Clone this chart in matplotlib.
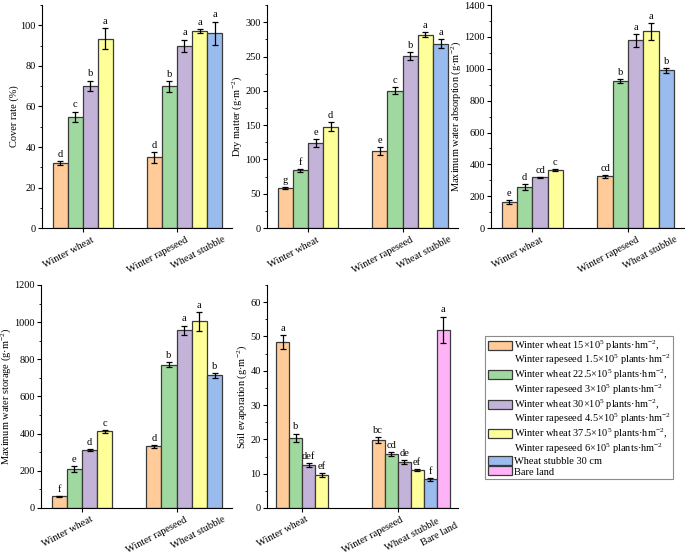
import matplotlib.pyplot as plt
from matplotlib.patches import Patch
from matplotlib.ticker import AutoMinorLocator, MultipleLocator
from matplotlib.transforms import ScaledTranslation

# Times-like look for the whole figure
plt.rcParams['font.family'] = ['Liberation Serif', 'DejaVu Serif']
plt.rcParams['mathtext.fontset'] = 'stix'
plt.rcParams['mathtext.default'] = 'regular'

# bar colours: 4 densities, stubble, bare land
colors = ["#FFCC99", "#9FD99F", "#C4B3D9", "#FFFF99", "#99BBEE", "#FFB3F7"]

# group labels on the x axis
labels_main = ["Winter wheat", "Winter rapeseed"]
labels_extra = ["Wheat stubble"]
labels_extra_evap = ["Wheat stubble", "Bare land"]

# cover rate (%)
cover_vals = [32.2, 55.0, 70.3, 93.4, 35.0, 70.0, 90.0, 97.0, 96.1]
cover_errs = [1.0, 2.5, 2.5, 5.2, 2.7, 2.7, 3.0, 1.0, 5.8]
cover_letters = ["d", "c", "b", "a", "d", "b", "a", "a", "a"]

# dry matter (g m-2)
dry_vals = [58, 84, 124, 148, 112, 200, 251, 282, 269]
dry_errs = [1.5, 2.0, 6.0, 6.0, 6.0, 5.0, 6.0, 4.0, 6.0]
dry_letters = ["g", "f", "e", "d", "e", "c", "b", "a", "a"]

# maximum water absorption (g m-2)
absorb_vals = [165, 256, 318, 365, 325, 925, 1178, 1235, 990]
absorb_errs = [12, 18, 5, 5, 10, 12, 40, 55, 15]
absorb_letters = ["e", "d", "cd", "c", "cd", "b", "a", "a", "b"]

# maximum water storage (g m-2)
storage_vals = [62, 210, 310, 412, 333, 772, 957, 1005, 713]
storage_errs = [3, 18, 5, 6, 8, 14, 25, 50, 12]
storage_letters = ["f", "e", "d", "c", "d", "b", "a", "a", "b"]

# soil evaporation (g m-2)
evap_vals = [48.4, 20.5, 12.5, 9.6, 19.8, 15.7, 13.4, 11.0, 8.4, 52.0]
evap_errs = [2.0, 1.2, 0.6, 0.7, 0.9, 0.5, 0.7, 0.3, 0.4, 3.8]
evap_letters = ["a", "b", "def", "ef", "bc", "cd", "de", "ef", "f", "a"]

# legend text
legend_lines = [
    "Winter wheat 15×10$^5$ plants·hm$^{-2}$,",
    "Winter rapeseed 1.5×10$^5$ plants·hm$^{-2}$",
    "Winter wheat 22.5×10$^5$ plants·hm$^{-2}$,",
    "Winter rapeseed 3×10$^5$ plants·hm$^{-2}$",
    "Winter wheat 30×10$^5$ plants·hm$^{-2}$,",
    "Winter rapeseed 4.5×10$^5$ plants·hm$^{-2}$",
    "Winter wheat 37.5×10$^5$ plants·hm$^{-2}$,",
    "Winter rapeseed 6×10$^5$ plants·hm$^{-2}$",
    "Wheat stubble 30 cm",
    "Bare land",
]

fig = plt.figure(figsize=(6.85, 5.55), dpi=100)


def draw_panel(rect, vals, errs, letters, ylabel, ymax, ystep, gap, extra_labels,
               shift_px=8, extra_shift=((8, 0),)):
    ax = fig.add_axes(rect)
    # first group has 4 bars, second group starts after a gap
    n2 = len(vals) - 4
    start2 = 3.5 + gap + 0.5
    xs = [0, 1, 2, 3] + [start2 + i for i in range(n2)]
    cols = colors[:4] + colors[:4] + colors[4:4 + n2 - 4]
    ax.bar(xs, vals, width=1.0, color=cols, edgecolor="#3a3a3a", linewidth=0.9)
    ax.errorbar(xs, vals, yerr=errs, fmt="none", ecolor="black",
                elinewidth=0.9, capsize=2.5, capthick=0.9)
    for x, v, e, t in zip(xs, vals, errs, letters):
        ax.annotate(t, (x, v + e), xytext=(0, 1.5), textcoords="offset points",
                    ha="center", va="bottom", fontsize=7.5)

    ax.set_xlim(-0.5 - 0.7, xs[-1] + 0.5 + 0.65)
    ax.set_ylim(0, ymax)
    ax.yaxis.set_major_locator(MultipleLocator(ystep))
    ax.yaxis.set_minor_locator(AutoMinorLocator(2))
    ax.set_ylabel(ylabel, fontsize=7.5, labelpad=1)

    # main ticks under the group centres, extra labels without tick marks
    ax.set_xticks([1.5, start2 + 1.5])
    ax.set_xticklabels(labels_main)
    ax.set_xticks(xs[8:], minor=True)
    ax.set_xticklabels(extra_labels, minor=True)
    ax.tick_params(axis="x", which="minor", length=0, pad=5.0)
    ax.tick_params(axis="x", which="major", length=3, width=0.8, pad=2.0)
    ax.tick_params(axis="y", which="major", length=3, width=0.8, labelsize=7.5, pad=1.5)
    ax.tick_params(axis="y", which="minor", length=1.8, width=0.6)
    shift = ScaledTranslation(shift_px / 100, 0, fig.dpi_scale_trans)
    for lab in ax.get_xticklabels():
        lab.set_transform(lab.get_transform() + shift)
    for lab, (dx, drop) in zip(ax.get_xticklabels(minor=True), extra_shift):
        move = ScaledTranslation(dx / 100, -drop / 100, fig.dpi_scale_trans)
        lab.set_transform(lab.get_transform() + move)
    for lab in ax.get_xticklabels(which="both"):
        lab.set_rotation(28)
        lab.set_ha("right")
        lab.set_va("top")
        lab.set_rotation_mode("anchor")
        lab.set_fontsize(7.5)

    ax.spines["top"].set_visible(False)
    ax.spines["right"].set_visible(False)
    ax.spines["left"].set_linewidth(0.8)
    ax.spines["bottom"].set_linewidth(0.8)
    return ax


# top row
draw_panel([0.0613, 0.589, 0.2774, 0.4018], cover_vals, cover_errs, cover_letters,
           "Cover rate (%)", 110, 20, 2.24, labels_extra)
draw_panel([0.3898, 0.589, 0.2788, 0.4018], dry_vals, dry_errs, dry_letters,
           "Dry matter (g·m$^{-2}$)", 325, 50, 2.24, labels_extra)
draw_panel([0.7168, 0.589, 0.2818, 0.4018], absorb_vals, absorb_errs, absorb_letters,
           "Maximum water absorption (g·m$^{-2}$)", 1400, 200, 2.24, labels_extra)

# bottom row
draw_panel([0.0599, 0.0847, 0.2788, 0.4018], storage_vals, storage_errs, storage_letters,
           "Maximum water storage (g·m$^{-2}$)", 1200, 200, 2.24, labels_extra)
draw_panel([0.3898, 0.0847, 0.2788, 0.4018], evap_vals, evap_errs, evap_letters,
           "Soil evaporation (g·m$^{-2}$)", 65, 10, 3.37, labels_extra_evap,
           shift_px=3, extra_shift=((6, 2), (12, 6)))

# legend: coloured box on the first line of each entry, blank on the second
handles = []
for i in range(4):
    handles.append(Patch(facecolor=colors[i], edgecolor="#3a3a3a", linewidth=0.9))
    handles.append(Patch(facecolor="none", edgecolor="none"))
handles.append(Patch(facecolor=colors[4], edgecolor="#3a3a3a", linewidth=0.9))
handles.append(Patch(facecolor=colors[5], edgecolor="#3a3a3a", linewidth=0.9))
leg = fig.legend(handles, legend_lines, loc="upper left",
                 bbox_to_anchor=(0.708, 0.395), fontsize=7.5, frameon=True,
                 fancybox=False, edgecolor="0.55", framealpha=1,
                 handlelength=2.3, handleheight=0.95, handletextpad=0.2,
                 labelspacing=0.03, borderpad=0.25, borderaxespad=0)
leg.get_frame().set_linewidth(0.8)

fig.savefig("out.png", dpi=100)
